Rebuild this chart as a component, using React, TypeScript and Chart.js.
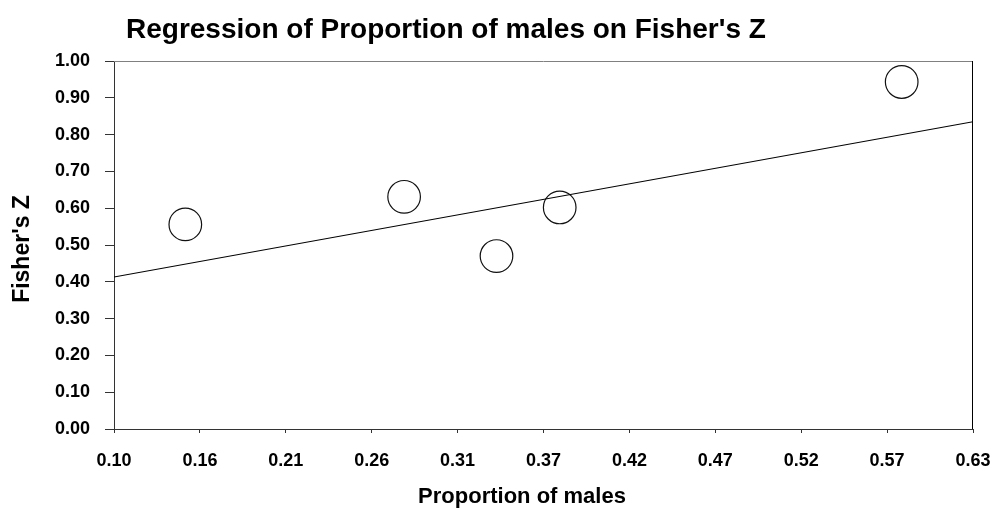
import React, { useEffect, useRef } from 'react';
import { Chart, registerables } from 'chart.js';

Chart.register(...registerables);

const chartTitle = "Regression of Proportion of males on Fisher's Z";
const xAxisTitle = 'Proportion of males';
const yAxisTitle = "Fisher's Z";

const xTickLabels = ['0.10', '0.16', '0.21', '0.26', '0.31', '0.37', '0.42', '0.47', '0.52', '0.57', '0.63'];
const yTickLabels = ['0.00', '0.10', '0.20', '0.30', '0.40', '0.50', '0.60', '0.70', '0.80', '0.90', '1.00'];

const proportionMales = [0.144, 0.279, 0.336, 0.375, 0.586];
const fishersZ = [0.556, 0.631, 0.470, 0.602, 0.943];

const fitX = [0.10, 0.63];
const fitY = [0.413, 0.835];

const xMin = 0.10;
const xMax = 0.63;
const yMin = 0;
const yMax = 1;

const FONT = "'Liberation Sans', Arial, Helvetica, sans-serif";

const framePlugin = {
  id: 'frameAndTitles',
  afterDraw(chart: any) {
    const { ctx, chartArea: a } = chart;
    ctx.save();
    ctx.lineWidth = 1;
    ctx.strokeStyle = '#808080';
    ctx.beginPath();
    ctx.moveTo(a.left, Math.round(a.top) + 0.5);
    ctx.lineTo(a.right, Math.round(a.top) + 0.5);
    ctx.stroke();
    ctx.strokeStyle = '#000';
    ctx.beginPath();
    ctx.moveTo(Math.round(a.right) - 0.5, a.top);
    ctx.lineTo(Math.round(a.right) - 0.5, a.bottom);
    ctx.stroke();

    ctx.fillStyle = '#000';
    ctx.font = `bold 28px ${FONT}`;
    ctx.textAlign = 'left';
    ctx.textBaseline = 'alphabetic';
    ctx.fillText(chartTitle, 126, 37.5);

    ctx.font = `bold 22px ${FONT}`;
    ctx.textAlign = 'center';
    ctx.textBaseline = 'middle';
    ctx.fillText(xAxisTitle, 522, 497);

    ctx.font = `bold 23px ${FONT}`;
    ctx.translate(23, 249);
    ctx.rotate(-Math.PI / 2);
    ctx.fillText(yAxisTitle, 0, 0);
    ctx.restore();
  },
};

export default function App() {
  const ref = useRef<HTMLCanvasElement | null>(null);

  useEffect(() => {
    if (!ref.current) return;
    const chart = new Chart(ref.current, {
      type: 'scatter',
      data: {
        datasets: [
          {
            type: 'line',
            label: 'Regression',
            data: fitX.map((x, i) => ({ x, y: fitY[i] })),
            borderColor: '#000',
            borderWidth: 1.2,
            pointRadius: 0,
            fill: false,
          } as any,
          {
            label: 'Data',
            data: proportionMales.map((x, i) => ({ x, y: fishersZ[i] })),
            pointStyle: 'circle',
            pointRadius: 16.3,
            pointBorderWidth: 1.2,
            borderColor: '#111',
            backgroundColor: 'rgba(0,0,0,0)',
          } as any,
        ],
      },
      options: {
        responsive: false,
        animation: false,
        devicePixelRatio: 1,
        layout: { padding: { top: 61, right: 19, left: 0, bottom: 0 } },
        plugins: {
          legend: { display: false },
          title: { display: false },
          tooltip: { enabled: false },
        },
        scales: {
          x: {
            type: 'linear',
            min: xMin,
            max: xMax,
            afterBuildTicks: (scale: any) => {
              scale.ticks = xTickLabels.map((_, i) => ({
                value: xMin + (i * (xMax - xMin)) / (xTickLabels.length - 1),
              }));
            },
            afterFit: (scale: any) => {
              scale.height = 82;
              scale.paddingLeft = 0;
              scale.paddingRight = 0;
            },
            ticks: {
              autoSkip: false,
              maxRotation: 0,
              padding: 17,
              color: '#000',
              font: { family: FONT, size: 18, weight: 'bold' },
              callback: (_v: any, i: number) => xTickLabels[i],
            },
            grid: { drawOnChartArea: false, drawTicks: true, tickLength: 4, color: '#333', lineWidth: 1 },
            border: { display: true, color: '#333', width: 1 },
          },
          y: {
            type: 'linear',
            min: yMin,
            max: yMax,
            afterFit: (scale: any) => {
              scale.width = 114;
              scale.paddingTop = 0;
              scale.paddingBottom = 0;
            },
            ticks: {
              stepSize: 0.1,
              padding: 15,
              color: '#000',
              font: { family: FONT, size: 18, weight: 'bold' },
              callback: (_v: any, i: number) => yTickLabels[i],
            },
            grid: { drawOnChartArea: false, drawTicks: true, tickLength: 9, color: '#333', lineWidth: 1 },
            border: { display: true, color: '#333', width: 1 },
          },
        },
      },
      plugins: [framePlugin],
    });
    return () => chart.destroy();
  }, []);

  return (
    <div style={{ position: 'absolute', left: 0, top: 0, width: 992, height: 511, background: '#fff' }}>
      <canvas ref={ref} width={992} height={511} style={{ display: 'block' }} />
    </div>
  );
}
